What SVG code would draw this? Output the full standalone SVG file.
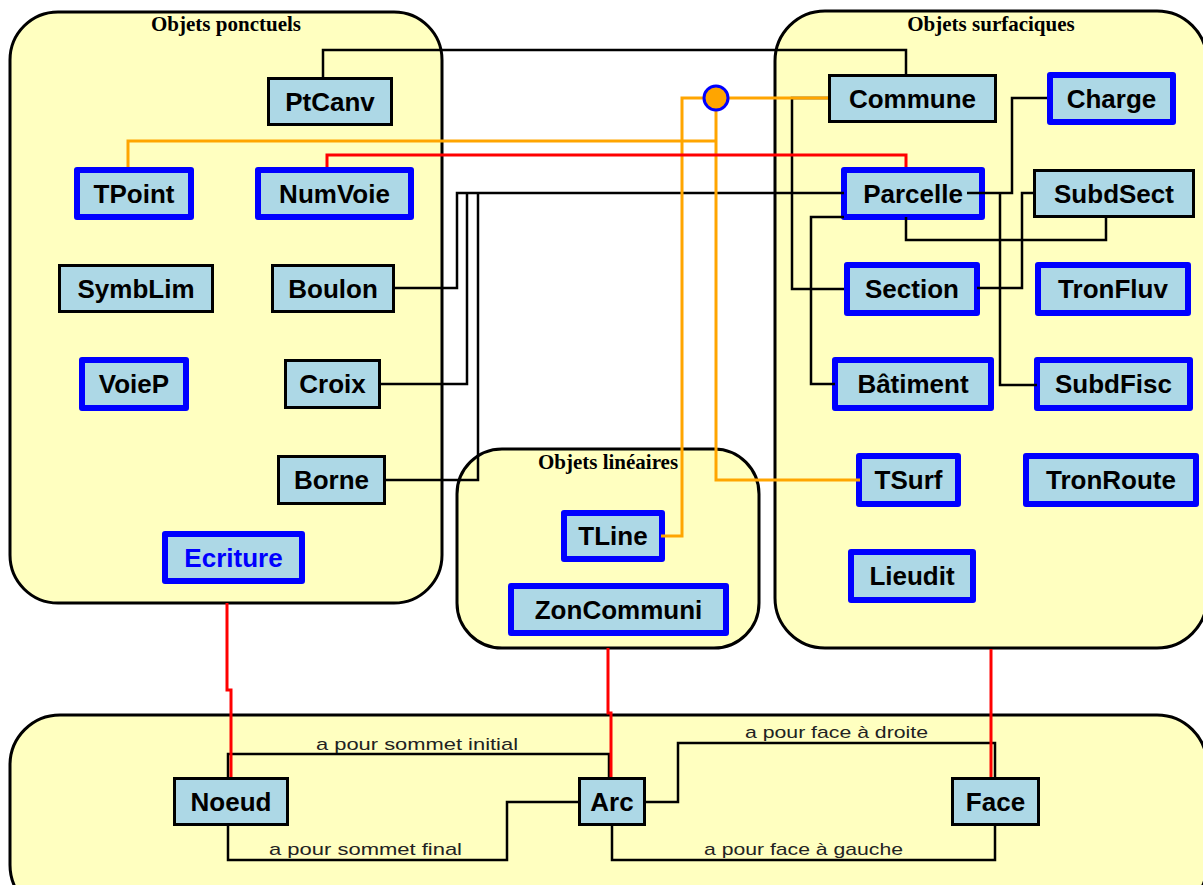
<svg xmlns="http://www.w3.org/2000/svg" width="1203" height="885" viewBox="0 0 1203 885">
<style>
.cont{fill:#FFFFC0;stroke:#000;stroke-width:3}
.ctitle{font-family:"Liberation Serif",serif;font-weight:bold;font-size:21px;fill:#000;text-anchor:middle}
.nb{fill:#ADD8E6;stroke:#000;stroke-width:3}
.nB{fill:#ADD8E6;stroke:#0000FF;stroke-width:6;stroke-linejoin:round}
.t{font-family:"Liberation Sans",Arial,sans-serif;font-weight:bold;font-size:26px;fill:#000;text-anchor:middle}
.tb{fill:#0000FF}
.ck{fill:none;stroke:#000;stroke-width:2.5}
.co{fill:none;stroke:#FFA500;stroke-width:3}
.cr{fill:none;stroke:#FF0000;stroke-width:3}
.lbl{font-family:"Liberation Sans",Arial,sans-serif;font-size:17px;fill:#222}
</style>
<rect width="1203" height="885" fill="#fff"/>
<g id="containers">
<g id="ponctuels"><rect class="cont" x="10" y="12" width="432" height="591" rx="48"/><text class="ctitle" x="226" y="31">Objets ponctuels</text></g>
<g id="surfaciques"><rect class="cont" x="775" y="11" width="432" height="637" rx="50"/><text class="ctitle" x="991" y="31">Objets surfaciques</text></g>
<g id="lineaires"><rect class="cont" x="457" y="449" width="302" height="199" rx="45"/><text class="ctitle" x="608" y="469">Objets linéaires</text></g>
<g id="topologie"><rect class="cont" x="10" y="715" width="1197" height="200" rx="50"/></g>
</g>
<g id="nodes">
<g id="PtCanv"><rect class="nb" x="268.5" y="78.5" width="123" height="46"/><text class="t" x="330" y="111">PtCanv</text></g>
<g id="TPoint"><rect class="nB" x="77" y="170" width="114" height="47"/><text class="t" x="134" y="203">TPoint</text></g>
<g id="NumVoie"><rect class="nB" x="258" y="170" width="153" height="47"/><text class="t" x="334.5" y="203">NumVoie</text></g>
<g id="SymbLim"><rect class="nb" x="59.5" y="265.5" width="153" height="46"/><text class="t" x="136" y="298">SymbLim</text></g>
<g id="Boulon"><rect class="nb" x="272.5" y="265.5" width="121" height="46"/><text class="t" x="333" y="298">Boulon</text></g>
<g id="VoieP"><rect class="nB" x="82" y="360" width="104" height="48"/><text class="t" x="134" y="393">VoieP</text></g>
<g id="Croix"><rect class="nb" x="285.5" y="360.5" width="94" height="47"/><text class="t" x="332.5" y="393">Croix</text></g>
<g id="Borne"><rect class="nb" x="278.5" y="456.5" width="106" height="47"/><text class="t" x="331.5" y="489">Borne</text></g>
<g id="Ecriture"><rect class="nB" x="165" y="534" width="137" height="47"/><text class="t tb" x="233.5" y="567">Ecriture</text></g>
<g id="Commune"><rect class="nb" x="829.5" y="75.5" width="166" height="46"/><text class="t" x="912.5" y="108">Commune</text></g>
<g id="Charge"><rect class="nB" x="1050" y="75" width="123" height="47"/><text class="t" x="1111.5" y="108">Charge</text></g>
<g id="Parcelle"><rect class="nB" x="844" y="170" width="138" height="47"/><text class="t" x="913" y="203">Parcelle</text></g>
<g id="SubdSect"><rect class="nb" x="1034.5" y="170.5" width="159" height="46"/><text class="t" x="1114" y="203">SubdSect</text></g>
<g id="Section"><rect class="nB" x="847" y="265" width="130" height="48"/><text class="t" x="912" y="298">Section</text></g>
<g id="TronFluv"><rect class="nB" x="1038" y="265" width="150" height="48"/><text class="t" x="1113" y="298">TronFluv</text></g>
<g id="Batiment"><rect class="nB" x="835" y="360" width="156" height="48"/><text class="t" x="913" y="393">Bâtiment</text></g>
<g id="SubdFisc"><rect class="nB" x="1037" y="360" width="153" height="48"/><text class="t" x="1113.5" y="393">SubdFisc</text></g>
<g id="TSurf"><rect class="nB" x="859" y="456" width="99" height="48"/><text class="t" x="908.5" y="489">TSurf</text></g>
<g id="TronRoute"><rect class="nB" x="1026" y="456" width="170" height="48"/><text class="t" x="1111" y="489">TronRoute</text></g>
<g id="Lieudit"><rect class="nB" x="851" y="552" width="122" height="48"/><text class="t" x="912" y="585">Lieudit</text></g>
<g id="TLine"><rect class="nB" x="564" y="513" width="98" height="46"/><text class="t" x="613" y="545">TLine</text></g>
<g id="ZonCommuni"><rect class="nB" x="511" y="586" width="215" height="47"/><text class="t" x="618.5" y="619">ZonCommuni</text></g>
<g id="Noeud"><rect class="nb" x="174.5" y="778.5" width="113" height="46"/><text class="t" x="231" y="811">Noeud</text></g>
<g id="Arc"><rect class="nb" x="579.5" y="778.5" width="65" height="46"/><text class="t" x="612" y="811">Arc</text></g>
<g id="Face"><rect class="nb" x="952.5" y="778.5" width="86" height="46"/><text class="t" x="995.5" y="811">Face</text></g>
</g>
<g id="connectors">
<path class="ck" d="M323 77 V50 H906 V74"/>
<path class="ck" d="M828 98 H792 V289 H844"/>
<path class="ck" d="M395 288 H457 V193 H844"/>
<path class="ck" d="M381 384 H467 V193"/>
<path class="ck" d="M386 480 H478 V193"/>
<path class="ck" d="M967 193 H1012 V98 H1047"/>
<path class="ck" d="M1000 193 V385 H1037"/>
<path class="ck" d="M906 217 V240 H1106 V218"/>
<path class="ck" d="M977 288 H1022 V193 H1033"/>
<path class="ck" d="M844 217 H811 V384 H835"/>
<path class="ck" d="M228 777 V754 H609 V777"/>
<path class="ck" d="M228 826 V860 H507 V802 H578"/>
<path class="ck" d="M646 802 H678 V743 H995 V777"/>
<path class="ck" d="M612 826 V860 H995 V826"/>
<path class="co" d="M128 167 V141 H716"/>
<path class="co" d="M716 98 V480 H860"/>
<path class="co" d="M661 536 H682 V98 H716"/>
<path class="co" d="M716 98 H828"/>
<path class="cr" d="M327 167 V155 H906 V167"/>
<path class="cr" d="M227 603 V690 H231 V777"/>
<path class="cr" d="M608 648 V713 H611 V777"/>
<path class="cr" d="M991 649 V777"/>
<text class="lbl" x="316" y="750" textLength="202" lengthAdjust="spacingAndGlyphs">a pour sommet initial</text>
<text class="lbl" x="269" y="855" textLength="193" lengthAdjust="spacingAndGlyphs">a pour sommet final</text>
<text class="lbl" x="745" y="738" textLength="183" lengthAdjust="spacingAndGlyphs">a pour face à droite</text>
<text class="lbl" x="704" y="855" textLength="199" lengthAdjust="spacingAndGlyphs">a pour face à gauche</text>
</g>
<g id="junction"><circle cx="716" cy="98" r="12" fill="#FFA500" stroke="#0000FF" stroke-width="3"/></g>
</svg>
